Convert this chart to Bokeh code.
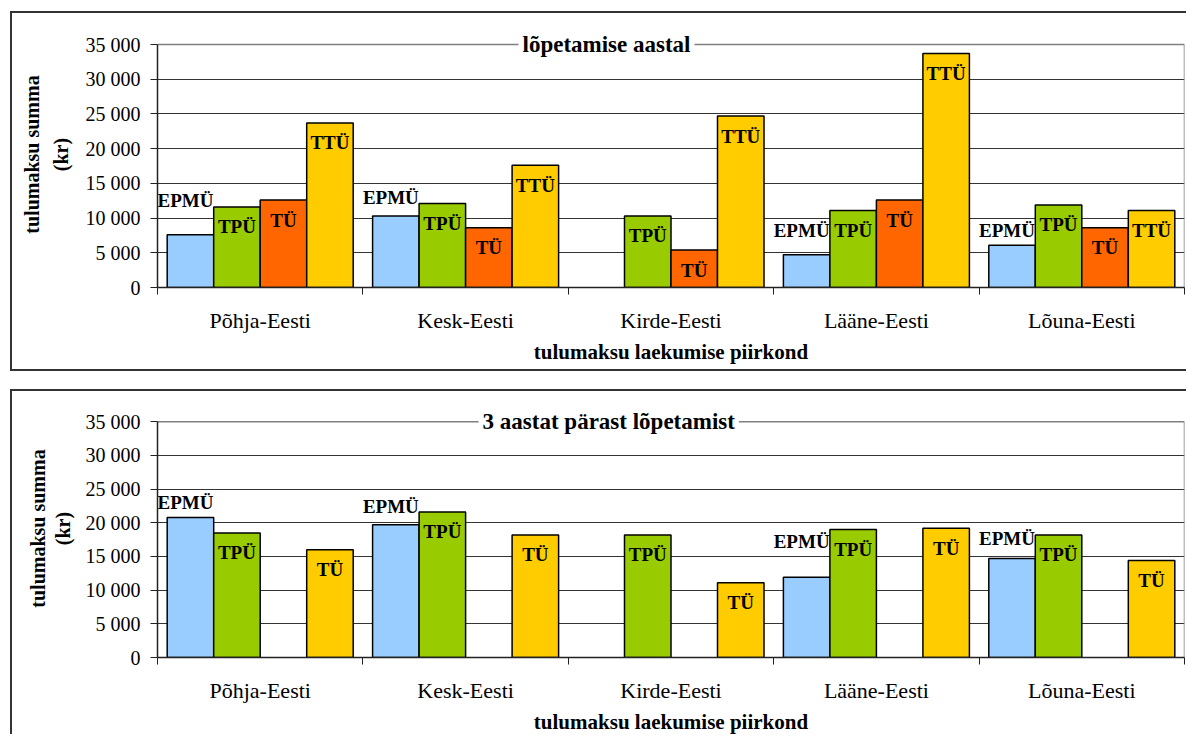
from bokeh.plotting import figure
from bokeh.models import FixedTicker, Label, Range1d, ColumnDataSource, LinearAxis
from bokeh.layouts import column
from bokeh.embed import file_html
from bokeh.resources import INLINE
from bokeh.core.properties import value

# ---------------- data ----------------
regions = ["Põhja-Eesti", "Kesk-Eesti", "Kirde-Eesti", "Lääne-Eesti", "Lõuna-Eesti"]
y_tick_values = [0, 5000, 10000, 15000, 20000, 25000, 30000, 35000]
y_tick_labels = ["0", "5 000", "10 000", "15 000", "20 000", "25 000", "30 000", "35 000"]

top_title = "lõpetamise aastal"
top_names = ["EPMÜ", "TPÜ", "TÜ", "TTÜ"]
top_epmu = [7600, 10300, None, 4700, 6100]
top_tpu = [11600, 12100, 10300, 11100, 11900]
top_tu = [12600, 8600, 5400, 12600, 8600]
top_ttu = [23700, 17600, 24700, 33700, 11100]

bottom_title = "3 aastat pärast lõpetamist"
bottom_names = ["EPMÜ", "TPÜ", "", "TÜ"]
bottom_epmu = [20800, 19700, None, 11900, 14700]
bottom_tpu = [18500, 21600, 18200, 19000, 18200]
bottom_empty = [None, None, None, None, None]
bottom_tu = [16000, 18200, 11100, 19200, 14400]

y_title_1 = "tulumaksu summa"
y_title_2 = "(kr)"
x_title = "tulumaksu laekumise piirkond"

# ---------------- style ----------------
FONT = "Liberation Serif"
BLUE, GREEN, ORANGE, YELLOW = "#99CCFF", "#99CC00", "#FF6600", "#FFCC00"
BAR_W = 0.2264
# vertical offsets (px) of the EPMÜ labels that sit above their bars
top_epmu_dy = [-34, -18, 0, -24, -15]
bottom_epmu_dy = [-15, -18, 0, -36, -20]
HEAD = 23  # px of frame above the 35 000 line


def make_panel(title, series, colors, names, epmu_dy, w, h, ml, mr, mt, mb, margin, styles,
               kr_standoff, title_standoff):
    frame_h = h - mt - mb
    frame_w = w - ml - mr
    y_max = y_tick_values[-1]
    y_end = y_max * frame_h / (frame_h - HEAD)
    p = figure(width=w, height=h, x_range=Range1d(0, len(regions)), y_range=Range1d(0, y_end),
               output_backend="svg", toolbar_location=None,
               min_border_left=ml, min_border_right=mr, min_border_top=mt, min_border_bottom=mb,
               margin=margin, styles=styles)
    p.outline_line_color = None
    p.background_fill_color = "white"
    p.border_fill_color = "white"

    # x axis
    xa = p.xaxis[0]
    xa.ticker = FixedTicker(ticks=[i + 0.5 for i in range(len(regions))],
                            minor_ticks=list(range(len(regions) + 1)))
    xa.major_label_overrides = {i + 0.5: r for i, r in enumerate(regions)}
    xa.major_tick_out = 0
    xa.major_tick_in = 0
    xa.minor_tick_out = 7
    xa.minor_tick_in = 0
    xa.minor_tick_line_color = "#222222"
    xa.axis_line_color = "#222222"
    xa.axis_line_width = 1.5
    xa.major_label_text_font = FONT
    xa.major_label_text_font_size = "22px"
    xa.major_label_text_color = "black"
    xa.major_label_standoff = 13
    xa.axis_label = x_title
    xa.axis_label_text_font = FONT
    xa.axis_label_text_font_style = "bold"
    xa.axis_label_text_font_size = "21px"
    xa.axis_label_text_color = "black"
    xa.axis_label_standoff = 4

    # y axis (tick labels + second title line)
    ya = p.yaxis[0]
    ya.ticker = FixedTicker(ticks=y_tick_values, minor_ticks=[])
    ya.bounds = (0, y_max)
    ya.major_label_overrides = {v: l for v, l in zip(y_tick_values, y_tick_labels)}
    ya.major_tick_out = 7
    ya.major_tick_in = 0
    ya.major_tick_line_color = "#222222"
    ya.axis_line_color = "#222222"
    ya.axis_line_width = 1.5
    ya.major_label_text_font = FONT
    ya.major_label_text_font_size = "20px"
    ya.major_label_text_color = "black"
    ya.major_label_standoff = 10
    ya.axis_label = y_title_2
    ya.axis_label_text_font = FONT
    ya.axis_label_text_font_style = "bold"
    ya.axis_label_text_font_size = "20px"
    ya.axis_label_text_color = "black"
    ya.axis_label_standoff = kr_standoff

    # outer axis carrying only the first title line
    ya2 = LinearAxis(ticker=FixedTicker(ticks=[], minor_ticks=[]),
                     axis_line_color=None, major_tick_line_color=None,
                     minor_tick_line_color=None, major_label_text_font_size="0px",
                     major_label_standoff=0, major_tick_out=0, minor_tick_out=0,
                     axis_label=y_title_1, axis_label_text_font=FONT,
                     axis_label_text_font_style="bold", axis_label_text_font_size="20px",
                     axis_label_text_color="black", axis_label_standoff=title_standoff)
    p.add_layout(ya2, "left")

    p.xgrid.visible = False
    p.ygrid.ticker = FixedTicker(ticks=y_tick_values[1:-1])
    p.ygrid.grid_line_color = "#333333"
    p.ygrid.grid_line_width = 1

    # plot-area border (top and right), grey
    p.segment(x0=[0, len(regions)], y0=[y_max, 0], x1=[len(regions), len(regions)], y1=[y_max, y_max],
              line_color="#808080", line_width=1.5)

    # bars + labels
    for slot, (vals, col, name) in enumerate(zip(series, colors, names)):
        xs, tops, dys, dxs = [], [], [], []
        for i, v in enumerate(vals):
            if v is None:
                continue
            xs.append(i + 0.5 + (slot - 1.5) * BAR_W)
            tops.append(v)
            if slot == 0:
                dys.append(epmu_dy[i])
                dxs.append(-5)
            else:
                dys.append(20)
                dxs.append(0)
        if not xs:
            continue
        src = ColumnDataSource(dict(x=xs, top=tops, dy=dys, dx=dxs, name=[name] * len(xs)))
        p.vbar(x="x", top="top", width=BAR_W, source=src, fill_color=col,
               line_color="black", line_width=1.5)
        p.text(x="x", y="top", text="name", source=src, x_offset="dx", y_offset="dy",
               text_font=value(FONT), text_font_style="bold", text_font_size="19px",
               text_align="center", text_baseline="middle", text_color="black")

    # title overlapping the top line of the plot area
    cx = ((w / 2.0) + 6 - ml) / frame_w * len(regions)
    p.add_layout(Label(x=cx, y=y_max, text=title, text_font=FONT, text_font_style="bold",
                       text_font_size="23px", text_align="center", text_baseline="middle",
                       text_color="black", background_fill_color="white", padding=4))
    return p


b = "2px solid #333333"
p1 = make_panel(top_title, [top_epmu, top_tpu, top_tu, top_ttu], [BLUE, GREEN, ORANGE, YELLOW],
                top_names, top_epmu_dy, 1176, 360, 145, 4, 8, 86, (11, 0, 0, 10),
                {"border-top": b, "border-left": b, "border-bottom": b}, 11, 4)
p2 = make_panel(bottom_title, [bottom_epmu, bottom_tpu, bottom_empty, bottom_tu],
                [BLUE, GREEN, ORANGE, YELLOW], bottom_names, bottom_epmu_dy,
                1176, 345, 141, 4, 8, 70, (18, 0, 0, 10),
                {"border-top": b, "border-left": b}, 9, 0)

layout = column(p1, p2, spacing=0)
open("out.html", "w").write(file_html(layout, INLINE))
